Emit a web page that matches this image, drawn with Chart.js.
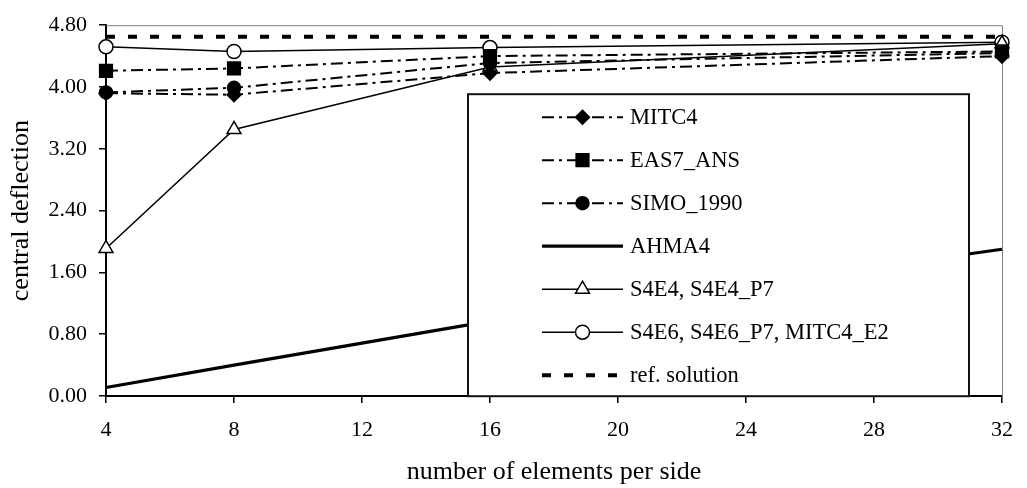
<!DOCTYPE html>
<html>
<head>
<meta charset="utf-8">
<script src="https://cdn.jsdelivr.net/npm/chart.js@4/dist/chart.umd.min.js"></script>
<style>
  html, body { margin: 0; padding: 0; background: #fff; }
  #wrap { width: 1027px; height: 488px; }
</style>
</head>
<body>
<div id="wrap"><canvas id="chart" width="1027" height="488"></canvas></div>
<script>
const elementsPerSide = [4, 8, 16, 32]
const mitc4 = [3.92, 3.90, 4.18, 4.40]
const eas7Ans = [4.21, 4.24, 4.40, 4.46]
const simo1990 = [3.93, 3.99, 4.31, 4.44]
const ahma4 = [0.11, 0.40, 0.97, 1.90]
const s4e4 = [1.91, 3.45, 4.26, 4.56]
const s4e6 = [4.52, 4.46, 4.51, 4.58]
const refSolution = [4.65, 4.65, 4.65, 4.65]

const xTicks = [4, 8, 12, 16, 20, 24, 28, 32]
const yTicks = [0, 0.8, 1.6, 2.4, 3.2, 4.0, 4.8]

const FONT = '"Liberation Serif", "Times New Roman", serif'
const dashDot = [12, 5, 3, 5]

const points = (values) => elementsPerSide.map((x, i) => ({ x, y: values[i] }))

const series = [
  { label: 'MITC4', values: mitc4, dash: dashDot, width: 2, marker: 'rectRot', radius: 7, filled: true },
  { label: 'EAS7_ANS', values: eas7Ans, dash: dashDot, width: 2, marker: 'rect', radius: 9, filled: true },
  { label: 'SIMO_1990', values: simo1990, dash: dashDot, width: 2, marker: 'circle', radius: 6.5, filled: true },
  { label: 'AHMA4', values: ahma4, dash: [], width: 3.2, marker: null },
  { label: 'S4E4, S4E4_P7', values: s4e4, dash: [], width: 1.5, marker: 'triangle', radius: 8, filled: false },
  { label: 'S4E6, S4E6_P7, MITC4_E2', values: s4e6, dash: [], width: 1.5, marker: 'circle', radius: 7, filled: false },
  { label: 'ref. solution', values: refSolution, dash: [9, 13], width: 4, marker: null },
]

const datasets = series.map((s) => ({
  label: s.label,
  data: points(s.values),
  borderColor: '#000',
  borderWidth: s.width,
  borderDash: s.dash,
  tension: 0,
  clip: false,
  pointStyle: s.marker || false,
  pointRadius: s.marker ? s.radius : 0,
  pointBorderWidth: 1.5,
  pointBorderColor: '#000',
  pointBackgroundColor: s.filled ? '#000' : '#fff',
}))

// small marker painter for the legend samples
function drawMarker(ctx, style, x, y, r, filled) {
  ctx.beginPath()
  if (style === 'circle') {
    ctx.arc(x, y, r, 0, Math.PI * 2)
  } else if (style === 'rect') {
    const h = r * Math.SQRT1_2
    ctx.rect(x - h, y - h, 2 * h, 2 * h)
  } else if (style === 'rectRot') {
    ctx.moveTo(x, y - r)
    ctx.lineTo(x + r, y)
    ctx.lineTo(x, y + r)
    ctx.lineTo(x - r, y)
    ctx.closePath()
  } else if (style === 'triangle') {
    ctx.moveTo(x, y - r)
    ctx.lineTo(x + r * Math.sin(Math.PI * 2 / 3), y - r * Math.cos(Math.PI * 2 / 3))
    ctx.lineTo(x - r * Math.sin(Math.PI * 2 / 3), y - r * Math.cos(Math.PI * 2 / 3))
    ctx.closePath()
  }
  ctx.setLineDash([])
  ctx.fillStyle = filled ? '#000' : '#fff'
  ctx.fill()
  ctx.lineWidth = 1.5
  ctx.strokeStyle = '#000'
  ctx.stroke()
}

// thin grey frame on top/right of the plot area
const plotFrame = {
  id: 'plotFrame',
  beforeDatasetsDraw(chart) {
    const { ctx, chartArea: a } = chart
    ctx.save()
    ctx.strokeStyle = '#808080'
    ctx.lineWidth = 1
    ctx.beginPath()
    ctx.moveTo(a.left, a.top + 0.5)
    ctx.lineTo(a.right + 0.5, a.top + 0.5)
    ctx.lineTo(a.right + 0.5, a.bottom)
    ctx.stroke()
    ctx.restore()
  },
}

// boxed legend sitting inside the plot area
const boxLegend = {
  id: 'boxLegend',
  afterDatasetsDraw(chart) {
    const { ctx, chartArea: a } = chart
    const left = a.left + 362
    const top = a.top + 69
    const width = 501
    const height = 302
    const rowGap = 43
    ctx.save()
    ctx.fillStyle = '#fff'
    ctx.fillRect(left, top, width, height)
    ctx.strokeStyle = '#111'
    ctx.lineWidth = 2
    ctx.strokeRect(left, top, width, height)

    series.forEach((s, i) => {
      const y = top + 23 + i * rowGap
      const x0 = left + 74
      const x1 = left + 155
      ctx.strokeStyle = '#000'
      ctx.lineWidth = s.width
      ctx.setLineDash(s.dash)
      ctx.beginPath()
      ctx.moveTo(x0, y)
      ctx.lineTo(x1, y)
      ctx.stroke()
      if (s.marker) drawMarker(ctx, s.marker, (x0 + x1) / 2, y, s.radius, s.filled)
      ctx.setLineDash([])
      ctx.fillStyle = '#000'
      ctx.font = '22.5px ' + FONT
      ctx.textBaseline = 'middle'
      ctx.textAlign = 'left'
      ctx.fillText(s.label, x1 + 7, y + 1)
    })
    ctx.restore()
  },
}

new Chart(document.getElementById('chart'), {
  type: 'line',
  data: { datasets },
  plugins: [plotFrame, boxLegend],
  options: {
    responsive: false,
    devicePixelRatio: 1,
    animation: false,
    events: [],
    layout: { padding: { top: 16, right: 15, left: 0, bottom: 0 } },
    plugins: { legend: { display: false }, tooltip: { enabled: false } },
    scales: {
      x: {
        type: 'linear',
        min: 4,
        max: 32,
        afterBuildTicks: (scale) => { scale.ticks = xTicks.map((value) => ({ value })) },
        afterFit: (scale) => { scale.height = 92 },
        grid: { drawOnChartArea: false, tickLength: 7, color: '#000', lineWidth: 1.5 },
        border: { display: true, color: '#000', width: 2 },
        ticks: { color: '#000', padding: 14, maxRotation: 0, font: { family: FONT, size: 22 } },
        title: {
          display: true,
          text: 'number of elements per side',
          color: '#000',
          padding: { top: 0, bottom: 0 },
          font: { family: FONT, size: 26, lineHeight: 1.2 },
        },
      },
      y: {
        min: 0,
        max: 4.8,
        afterBuildTicks: (scale) => { scale.ticks = yTicks.map((value) => ({ value })) },
        afterFit: (scale) => { scale.width = 106 },
        grid: { drawOnChartArea: false, tickLength: 7, color: '#000', lineWidth: 1.5 },
        border: { display: true, color: '#000', width: 2 },
        ticks: {
          color: '#000',
          padding: 12,
          font: { family: FONT, size: 22 },
          callback: (v) => Number(v).toFixed(2),
        },
        title: {
          display: true,
          text: 'central deflection',
          color: '#000',
          padding: { top: 6, bottom: 0 },
          font: { family: FONT, size: 26, lineHeight: 1.2 },
        },
      },
    },
  },
})
</script>
</body>
</html>
